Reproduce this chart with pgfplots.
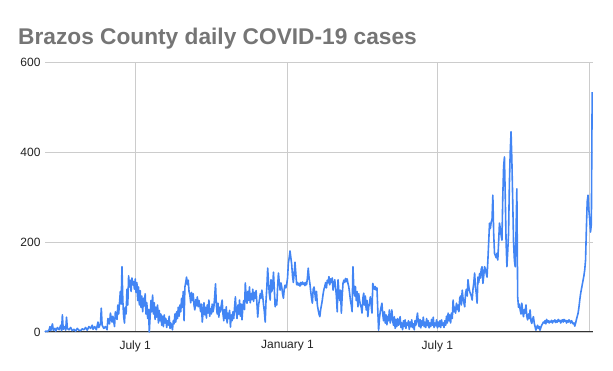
\documentclass[border=0pt]{standalone}
\usepackage{pgfplots}
\pgfplotsset{compat=1.18}
\usepackage{pgfplotstable}
\usepackage{fontspec}
\setmainfont{Liberation Sans}
\definecolor{gblue}{HTML}{4285F4}
\definecolor{gridgray}{HTML}{CCCCCC}
\definecolor{titlegray}{HTML}{757575}
\definecolor{labelgray}{HTML}{222222}
\pgfplotstableread{
day cases
-109 0
-108 2
-106 1
-104 5
-103 12
-102 3
-100 18
-99 4
-97 8
-96 2
-94 10
-92 5
-90 15
-89 3
-88 38
-87 6
-85 12
-84 4
-83 33
-82 8
-80 5
-78 10
-76 3
-74 6
-72 2
-70 8
-68 4
-66 3
-64 7
-62 5
-60 10
-58 4
-56 12
-54 8
-52 15
-51 6
-49 12
-47 5
-45 22
-44 10
-42 18
-41 53
-40 15
-38 8
-36 12
-34 5
-33 30
-31 18
-30 42
-28 22
-27 35
-25 12
-24 45
-22 28
-21 60
-20 40
-18 90
-17 62
-16 145
-15 70
-14 35
-13 20
-12 55
-11 40
-10 95
-9 60
-8 125
-7 100
-6 115
-5 90
-4 120
-3 105
-2 112
-1 95
0 118
1 88
2 110
3 70
4 100
5 60
6 92
7 55
8 80
9 45
10 75
11 58
12 85
13 40
14 65
15 30
16 50
17 0
18 35
19 70
20 45
21 82
22 40
23 65
24 28
25 55
26 33
27 60
28 20
29 48
30 25
31 40
32 15
33 35
34 12
35 38
36 20
37 30
38 10
39 25
40 15
41 35
42 8
43 20
44 12
45 5
46 25
47 18
48 40
49 22
50 45
51 30
52 55
53 35
54 60
55 45
56 75
57 55
58 90
59 25
60 100
61 110
62 122
63 105
64 115
65 90
66 82
67 65
68 88
69 70
70 85
71 60
72 49
73 72
74 58
75 78
76 56
77 70
78 60
79 45
80 62
81 22
82 45
83 65
84 38
85 55
86 31
87 60
88 42
89 71
90 35
91 52
92 40
93 62
94 45
95 55
96 80
97 107
98 60
99 40
100 64
101 33
102 55
103 45
104 60
105 71
106 40
107 25
108 50
109 30
110 56
111 20
112 42
113 30
114 48
115 11
116 38
117 25
118 45
119 30
120 55
121 78
122 45
123 30
124 60
125 40
126 71
127 35
128 62
129 27
130 55
131 70
132 50
133 109
134 75
135 64
136 90
137 70
138 100
139 65
140 85
141 72
142 95
143 68
144 88
145 75
146 92
147 64
148 33
149 60
150 71
151 85
152 75
153 93
154 80
155 60
156 45
157 22
158 70
159 100
160 142
161 110
162 85
163 71
164 116
165 90
166 100
167 133
168 95
169 56
170 71
171 60
172 100
173 131
174 110
175 93
176 109
177 100
178 85
179 75
180 95
181 104
182 98
183 106
184 120
185 153
186 165
187 180
188 165
189 150
190 125
191 110
192 130
193 155
194 130
195 105
196 110
197 104
198 108
199 102
200 110
201 105
202 111
203 106
204 109
205 103
206 110
207 105
208 120
209 142
210 120
211 108
212 90
213 75
214 64
215 95
216 100
217 86
218 70
219 90
220 60
221 49
222 40
223 34
224 50
225 60
226 71
227 85
228 95
229 101
230 110
231 98
232 115
233 109
234 123
235 105
236 118
237 110
238 120
239 93
240 105
241 116
242 100
243 80
244 45
245 116
246 90
247 70
248 93
249 42
250 80
251 108
252 115
253 110
254 119
255 112
256 118
257 108
258 100
259 86
260 70
261 60
262 45
263 145
264 100
265 80
266 101
267 70
268 90
269 56
270 85
271 70
272 60
273 55
274 42
275 75
276 86
277 60
278 80
279 49
280 70
281 34
282 55
283 65
284 78
285 60
286 42
287 108
288 100
289 95
290 101
291 93
292 98
293 49
294 4
295 30
296 45
297 55
298 64
299 40
300 25
301 45
302 20
303 38
304 16
305 35
306 25
307 49
308 20
309 30
310 49
311 25
312 15
313 34
314 8
315 28
316 12
317 30
318 15
319 22
320 34
321 10
322 20
323 5
324 25
325 12
326 27
327 8
328 20
329 15
330 25
331 6
332 22
333 12
334 27
335 10
336 18
337 5
338 25
339 15
340 30
341 42
342 20
343 12
344 28
345 9
346 25
347 15
348 33
349 12
350 22
351 10
352 30
353 14
354 25
355 9
356 20
357 12
358 28
359 15
360 33
361 10
362 20
363 14
364 27
365 9
366 22
367 12
368 25
369 10
370 27
371 15
372 20
373 10
374 25
375 15
376 35
377 20
378 42
379 25
380 38
381 20
382 42
383 30
384 71
385 45
386 55
387 42
388 64
389 50
390 60
391 45
392 75
393 80
394 60
395 93
396 75
397 65
398 56
399 85
400 95
401 80
402 116
403 100
404 90
405 85
406 80
407 71
408 95
409 110
410 131
411 100
412 85
413 64
414 122
415 110
416 130
417 120
418 140
419 145
420 108
421 125
422 145
423 140
424 130
425 122
426 160
427 200
428 242
429 230
430 244
431 250
432 304
433 220
434 175
435 170
436 165
437 175
438 160
439 200
440 242
441 230
442 215
443 204
444 300
445 367
446 389
447 300
448 200
449 145
450 180
451 220
452 330
453 400
454 445
455 380
456 293
457 200
458 160
459 145
460 220
461 318
462 78
463 55
464 62
465 49
466 40
467 64
468 45
469 34
470 50
471 42
472 60
473 35
474 27
475 40
476 30
477 49
478 25
479 19
480 28
481 34
482 20
483 12
484 4
485 10
486 15
487 8
488 12
489 4
490 10
491 15
492 18
493 22
494 20
495 25
496 18
497 28
498 22
499 25
500 20
501 24
502 22
503 26
504 20
505 25
506 23
507 27
508 21
509 25
510 22
511 28
512 24
513 26
514 20
515 25
516 27
517 22
518 28
519 24
520 26
521 20
522 25
523 22
524 27
525 24
526 20
527 25
528 22
529 18
530 20
531 13
532 20
533 28
534 35
535 42
536 55
537 71
538 85
539 95
540 105
541 115
542 125
543 138
544 160
545 230
546 290
547 304
548 271
549 250
550 222
551 240
552 533
}\covid
\begin{document}
\begin{tikzpicture}[x=1pt,y=1pt]
\useasboundingbox (0,0) rectangle (613,371);
\node[anchor=base west, inner sep=0, text=titlegray, font=\fontsize{22.7}{27}\selectfont\bfseries] at (18,326.8) {Brazos County daily COVID-19 cases};
\begin{axis}[
  at={(45pt,39pt)}, anchor=south west,
  scale only axis, width=548pt, height=270pt,
  xmin=-109, xmax=553, ymin=0, ymax=600,
  ytick={0,200,400,600},
  xtick={0,184,365,549},
  xticklabels={July 1,January 1,July 1,{}},
  grid=major,
  major grid style={color=gridgray, line width=0.8pt},
  axis x line*=bottom, axis y line*=left,
  y axis line style={draw=none},
  x axis line style={color=black!80, line width=1pt, -},
  major tick length=0pt,
  /pgf/number format/assume math mode=true,
  tick label style={font=\fontsize{12}{14}\selectfont, text=labelgray},
  yticklabel style={xshift=-1pt},
  xticklabel style={yshift=-5pt},
  clip=false,
]
\addplot[color=gblue, line width=1.6pt, line join=round, mark=none] table[x=day, y=cases] {\covid};
\end{axis}
\end{tikzpicture}
\end{document}
